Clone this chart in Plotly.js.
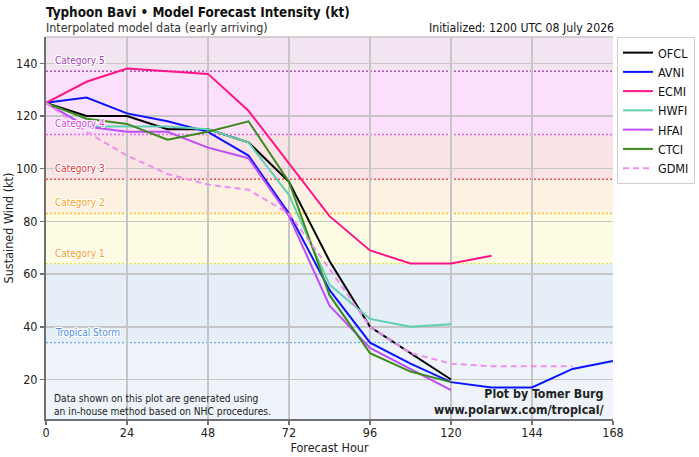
<!DOCTYPE html>
<html>
<head>
<meta charset="utf-8">
<script src="https://cdn.plot.ly/plotly-3.0.1.min.js"></script>
<style>
  html, body { margin: 0; padding: 0; background: #fff; }
  #chart { width: 699px; height: 457px; }
</style>
</head>
<body>
<div id="chart"></div>
<script>
// Forecast hours (every 12 h)
const hours = [0, 12, 24, 36, 48, 60, 72, 84, 96, 108, 120, 132, 144, 156, 168];

// Intensity forecasts (kt) per model
const ofcl = [125, 120, 120, 115, 115, 110, 95, 65, 40, 30, 20];
const avni = [125, 127, 121, 118, 114, 105, 83, 54, 34, 26, 19, 17, 17, 24, 27];
const ecmi = [125, 133, 138, 137, 136, 122, 102, 82, 69, 64, 64, 67];
const hwfi = [125, 116, 116, 116, 115, 110, 90, 56, 43, 40, 41];
const hfai = [125, 116, 114, 114, 108, 104, 82, 48, 32, 24, 16];
const ctci = [125, 119, 117, 111, 114, 118, 95, 52, 30, 23, 19];
const gdmi = [125, 114, 105, 98, 94, 92, 83, 62, 40, 30, 26, 25, 25, 25];

// Saffir-Simpson thresholds (kt) and their labels
const thresholds = [34, 64, 83, 96, 113, 137];
const thresholdLabels = ["Tropical Storm", "Category 1", "Category 2", "Category 3", "Category 4", "Category 5"];

// Axis ticks
const xTicks = [0, 24, 48, 72, 96, 120, 144, 168];
const yTicks = [20, 40, 60, 80, 100, 120, 140];

const yMin = 5, yMax = 150;
const FONT = '"DejaVu Sans Condensed", "DejaVu Sans", sans-serif';

const series = [
  { name: "OFCL", y: ofcl, color: "#000000", dash: "solid" },
  { name: "AVNI", y: avni, color: "#0a14ff", dash: "solid" },
  { name: "ECMI", y: ecmi, color: "#ff1488", dash: "solid" },
  { name: "HWFI", y: hwfi, color: "#5ed0b0", dash: "solid" },
  { name: "HFAI", y: hfai, color: "#c04cf8", dash: "solid" },
  { name: "CTCI", y: ctci, color: "#3a8a1e", dash: "solid" },
  { name: "GDMI", y: gdmi, color: "#ee8ef0", dash: "6px,4px" }
];

const traces = series.map(s => ({
  type: "scatter",
  mode: "lines",
  name: s.name,
  x: hours.slice(0, s.y.length),
  y: s.y,
  line: { color: s.color, width: 2, dash: s.dash },
  hoverinfo: "x+y+name"
}));

// Shaded intensity bands, bottom to top
const bandEdges = [yMin].concat(thresholds, [yMax]);
const bandColors = ["#eef4fa", "#e6eef7", "#fefce2", "#fdf1e2", "#fae3e5", "#fde1fc", "#f2e4f0"];
const lineColors = ["#6aaaf0", "#e8e040", "#f8c030", "#f05050", "#f060f0", "#b050c0"];
const labelColors = ["#4f90e6", "#f8a020", "#f8a020", "#e43434", "#e040e6", "#a03cbc"];

const shapes = [];
for (let i = 0; i < bandColors.length; i++) {
  shapes.push({
    type: "rect", xref: "paper", yref: "y", layer: "below",
    x0: 0, x1: 1, y0: bandEdges[i], y1: bandEdges[i + 1],
    fillcolor: bandColors[i], line: { width: 0 }
  });
}
thresholds.forEach((t, i) => {
  shapes.push({
    type: "line", xref: "paper", yref: "y", layer: "below",
    x0: 0, x1: 1, y0: t, y1: t,
    line: { color: lineColors[i], width: 1.3, dash: "2px,2px" }
  });
});
// light frame on the top edge
shapes.push({
  type: "line", xref: "paper", yref: "paper", layer: "above",
  x0: 0, x1: 1, y0: 1, y1: 1,
  line: { color: "#c4c4c4", width: 1.5 }
});

const halo = "1px 0 0 #fff, -1px 0 0 #fff, 0 1px 0 #fff, 0 -1px 0 #fff, 1px 1px 0 #fff, -1px -1px 0 #fff, 1px -1px 0 #fff, -1px 1px 0 #fff";
const annotations = thresholds.map((t, i) => ({
  xref: "paper", yref: "y", x: 0.013, y: t + 4,
  xanchor: "left", yanchor: "middle", showarrow: false,
  text: thresholdLabels[i],
  font: { family: FONT, size: 10, color: labelColors[i], shadow: halo }
}));

annotations.push(
  {
    xref: "paper", yref: "paper", x: -0.004, y: 1.024,
    xanchor: "left", yanchor: "middle", showarrow: false,
    text: "Interpolated model data (early arriving)",
    font: { family: FONT, size: 12.4, color: "#333" }
  },
  {
    xref: "paper", yref: "paper", x: 1.006, y: 1.024,
    xanchor: "right", yanchor: "middle", showarrow: false,
    text: "Initialized: 1200 UTC 08 July 2026",
    font: { family: FONT, size: 12.2, color: "#111" }
  },
  {
    xref: "paper", yref: "paper", x: 0.01, y: 0.0,
    xanchor: "left", yanchor: "bottom", showarrow: false, align: "left",
    text: "Data shown on this plot are generated using<br>an in-house method based on NHC procedures.",
    font: { family: FONT, size: 10.2, color: "#222" }
  },
  {
    xref: "paper", yref: "paper", x: 0.988, y: 0.0,
    xanchor: "right", yanchor: "bottom", showarrow: false, align: "right",
    text: "<b>Plot by Tomer Burg</b><br><b>www.polarwx.com/tropical/</b>",
    font: { family: FONT, size: 12.3, color: "#222" }
  }
);

const axisCommon = {
  showgrid: true, gridcolor: "#c6c6c6", gridwidth: 1.5,
  showline: true, linecolor: "#707070", linewidth: 2,
  ticks: "outside", ticklen: 4, tickcolor: "#707070", tickwidth: 1.5,
  zeroline: false,
  tickfont: { family: FONT, size: 12.5, color: "#222" }
};

const layout = {
  width: 699, height: 457,
  margin: { l: 46, r: 86, t: 37, b: 38, autoexpand: false },
  paper_bgcolor: "#ffffff",
  plot_bgcolor: "#ffffff",
  font: { family: FONT, color: "#222" },
  title: {
    text: "<b>Typhoon Bavi • Model Forecast Intensity (kt)</b>",
    xref: "paper", x: 0, xanchor: "left",
    yref: "container", y: 0.973, yanchor: "middle",
    font: { family: FONT, size: 13.4, color: "#111" }
  },
  xaxis: Object.assign({}, axisCommon, {
    range: [0, 168], tickvals: xTicks, ticktext: xTicks.map(String),
    ticklabelstandoff: -3,
    title: { text: "Forecast Hour", font: { family: FONT, size: 12.5, color: "#222" }, standoff: 0 }
  }),
  yaxis: Object.assign({}, axisCommon, {
    range: [yMin, yMax], tickvals: yTicks, ticktext: yTicks.map(String),
    title: { text: "Sustained Wind (kt)", font: { family: FONT, size: 12.5, color: "#222" }, standoff: 0 }
  }),
  legend: {
    x: 1.007, y: 1, xanchor: "left", yanchor: "top",
    bgcolor: "#ffffff", bordercolor: "#d0d0d0", borderwidth: 1,
    font: { family: FONT, size: 12.5, color: "#111" },
    itemwidth: 30, tracegroupgap: 0
  },
  shapes: shapes,
  annotations: annotations,
  showlegend: true
};

Plotly.newPlot("chart", traces, layout, { displayModeBar: false, staticPlot: true });
</script>
</body>
</html>
